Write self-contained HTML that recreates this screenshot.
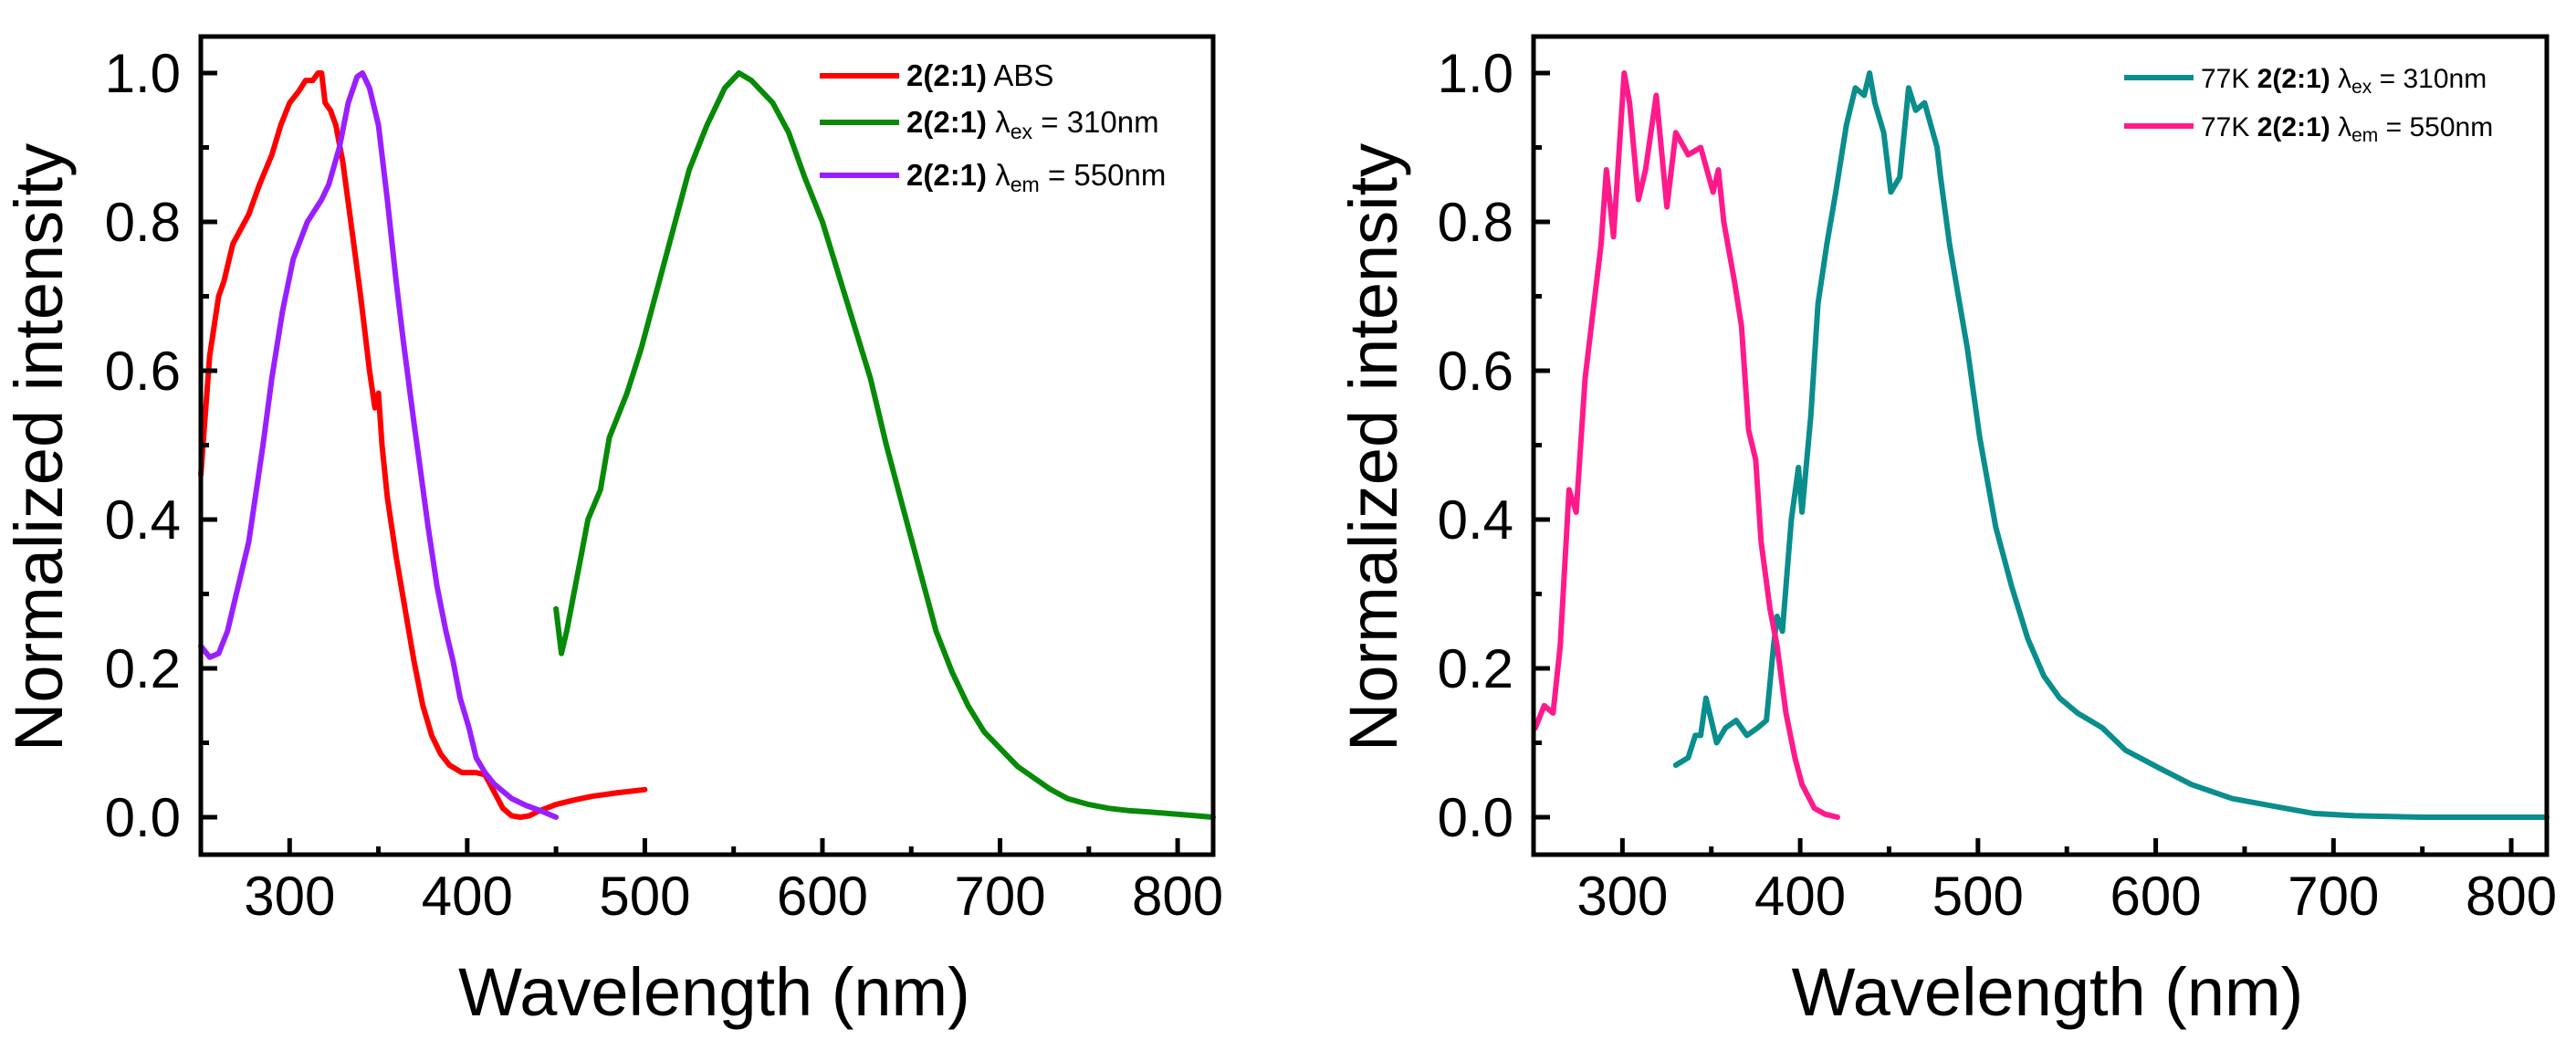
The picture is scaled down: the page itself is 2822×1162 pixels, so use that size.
<!DOCTYPE html>
<html><head><meta charset="utf-8"><style>
html,body{margin:0;padding:0;background:#fff;}
svg{display:block;font-family:"Liberation Sans",Arial,sans-serif;}
</style></head><body>
<svg id="fig" width="2822" height="1162" viewBox="0 0 2822 1162"></svg>
<script>
const NS="http://www.w3.org/2000/svg";
// ---- data (left panel) ----
const absX=[250,255,260,263,268,277,283,290,295,300,305,309,313,316,318,320,323,326,330,335,340,345,348,350,352,355,360,365,370,375,380,385,390,397,405,410,415,420,425,430,435,440,450,460,470,485,500];
const absY=[0.46,0.62,0.70,0.72,0.77,0.81,0.85,0.89,0.93,0.96,0.975,0.99,0.99,1.0,1.0,0.96,0.95,0.93,0.88,0.79,0.70,0.60,0.55,0.57,0.50,0.43,0.35,0.28,0.21,0.15,0.11,0.085,0.07,0.06,0.06,0.057,0.035,0.012,0.002,0.0,0.002,0.008,0.017,0.023,0.028,0.033,0.037];
const exX=[450,453,456,460,464,468,475,480,490,498,507,516,525,535,545,553,560,572,581,590,600,609,618,627,636,646,655,664,673,682,691,701,710,719,728,738,750,761,772,784,800,820];
const exY=[0.28,0.22,0.25,0.30,0.35,0.40,0.44,0.51,0.57,0.63,0.71,0.79,0.87,0.93,0.98,1.0,0.99,0.96,0.92,0.86,0.80,0.73,0.66,0.59,0.50,0.41,0.33,0.25,0.195,0.15,0.115,0.09,0.068,0.053,0.038,0.025,0.017,0.012,0.009,0.007,0.004,0.0];
const emX=[250,255,260,265,270,277,285,290,296,302,310,318,322,328,333,338,341,345,350,355,360,364,370,374,378,383,388,392,396,401,405,410,415,425,433,442,450];
const emY=[0.23,0.215,0.22,0.25,0.30,0.37,0.50,0.59,0.68,0.75,0.80,0.83,0.85,0.90,0.96,0.995,1.0,0.98,0.93,0.83,0.72,0.64,0.53,0.46,0.39,0.31,0.25,0.21,0.16,0.12,0.08,0.06,0.045,0.025,0.016,0.008,0.0];
// ---- data (right panel) ----
const pkX=[251,256,261,265,270,274,279,284,288,291,295,301,304,309,313,319,325,330,337,344,351,354,357,363,367,371,375,378,383,387,392,397,401,408,414,421];
const pkY=[0.12,0.15,0.14,0.23,0.44,0.41,0.59,0.69,0.77,0.87,0.78,1.0,0.96,0.83,0.87,0.97,0.82,0.92,0.89,0.90,0.84,0.87,0.80,0.72,0.66,0.52,0.48,0.37,0.28,0.23,0.14,0.08,0.044,0.012,0.004,0.0];
const tlX=[330,337,341,344,347,351,353,358,364,370,376,381,385,387,390,395,399,401,406,410,415,420,426,431,436,439,442,447,451,456,461,465,470,477,479,484,489,494,501,510,519,528,537,546,556,570,583,602,620,643,666,689,712,750,820];
const tlY=[0.07,0.08,0.11,0.11,0.16,0.12,0.10,0.12,0.13,0.11,0.12,0.13,0.23,0.27,0.25,0.40,0.47,0.41,0.54,0.69,0.77,0.84,0.93,0.98,0.97,1.0,0.96,0.92,0.84,0.86,0.98,0.95,0.96,0.90,0.86,0.77,0.70,0.63,0.51,0.39,0.31,0.24,0.19,0.16,0.14,0.12,0.09,0.066,0.044,0.025,0.015,0.005,0.002,0.0,0.0];
const xTicks=[300,400,500,600,700,800];
const yTicks=[0.0,0.2,0.4,0.6,0.8,1.0];
const yTickLabels=["0.0","0.2","0.4","0.6","0.8","1.0"];

const svg=document.getElementById('fig');
function mk(tag,attrs,parent){const e=document.createElementNS(NS,tag);for(const k in attrs)e.setAttribute(k,attrs[k]);(parent||svg).appendChild(e);return e;}

function panel(left,right,name,series,legend,titleX,legendCfg){
  const top=40,bottom=936;
  const X=v=>left+(v-250)*(right-left)/570;
  const Y=v=>895-v*815;
  const g=mk('g',{});
  
  
  // series
  series.forEach(s=>{
    const p=mk('polyline',{points:s.x.map((v,i)=>X(v).toFixed(1)+','+Y(s.y[i]).toFixed(1)).join(' '),fill:'none',stroke:s.c,'stroke-width':6,'stroke-linejoin':'round','stroke-linecap':'round'},g);
    
    
  });
  // frame
  const fr=mk('rect',{x:left,y:top,width:right-left,height:bottom-top,fill:'none',stroke:'#000','stroke-width':5},g);
  
  
  // x ticks
  for(let v=300;v<=800;v+=50){
    const major=v%100===0;
    mk('line',{x1:X(v),x2:X(v),y1:bottom,y2:bottom-(major?18:9),stroke:'#000','stroke-width':5},g);
  }
  xTicks.forEach(v=>{
    const t=mk('text',{x:X(v),y:1002,'font-size':60,'text-anchor':'middle',fill:'#000'},g);
    t.textContent=v;
    
    
  });
  for(let i=0;i<=10;i++){
    const v=i/10,major=i%2===0;
    mk('line',{x1:left,x2:left+(major?18:9),y1:Y(v),y2:Y(v),stroke:'#000','stroke-width':5},g);
  }
  yTicks.forEach((v,i)=>{
    const t=mk('text',{x:left-22,y:Y(v)+21,'font-size':60,'text-anchor':'end',fill:'#000'},g);
    t.textContent=yTickLabels[i];
    
    
  });
  const xt=mk('text',{x:(left+right)/2+8,y:1112,'font-size':74,'text-anchor':'middle',fill:'#000'},g);
  xt.textContent='Wavelength (nm)';
  
  
  const yt=mk('text',{x:0,y:0,'font-size':74,'text-anchor':'middle',fill:'#000',transform:`translate(${titleX},490) rotate(-90)`},g);
  yt.textContent='Normalized intensity';
  
  
  // legend
  legend.forEach((l,i)=>{
    const y=legendCfg.y[i];
    const ln=mk('line',{x1:legendCfg.x1,x2:legendCfg.x2,y1:y,y2:y,stroke:l.c,'stroke-width':6},g);
    
    
    const t=mk('text',{x:legendCfg.x2+8,y:y+11,'font-size':legendCfg.fs,fill:'#000'},g);
    
    
    t.innerHTML=l.html;
  });
}
const sub=(s)=>`<tspan baseline-shift="-30%" font-size="0.7em">${s}</tspan>`;
panel(220,1329,'left-chart',[
  {x:exX,y:exY,c:'#078a07',n:'series-excitation-310'},
  {x:absX,y:absY,c:'#ff0000',n:'series-abs'},
  {x:emX,y:emY,c:'#9a1fff',n:'series-em-550'}
],[
  {c:'#ff0000',html:'<tspan font-weight="bold">2(2:1)</tspan> ABS'},
  {c:'#078a07',html:'<tspan font-weight="bold">2(2:1)</tspan> λ'+sub('ex')+'<tspan dy="0"> = 310nm</tspan>'},
  {c:'#9a1fff',html:'<tspan font-weight="bold">2(2:1)</tspan> λ'+sub('em')+'<tspan> = 550nm</tspan>'}
],68,{x1:898,x2:985,y:[83,134,192],fs:33});
panel(1680,2790,'right-chart',[
  {x:tlX,y:tlY,c:'#0a8d8d',n:'series-77k-ex-310'},
  {x:pkX,y:pkY,c:'#ff1a8c',n:'series-77k-em-550'}
],[
  {c:'#0a8d8d',html:'77K <tspan font-weight="bold">2(2:1)</tspan> λ'+sub('ex')+'<tspan> = 310nm</tspan>'},
  {c:'#ff1a8c',html:'77K <tspan font-weight="bold">2(2:1)</tspan> λ'+sub('em')+'<tspan> = 550nm</tspan>'}
],1530,{x1:2327,x2:2403,y:[85,138],fs:30});
</script>
</body></html>
